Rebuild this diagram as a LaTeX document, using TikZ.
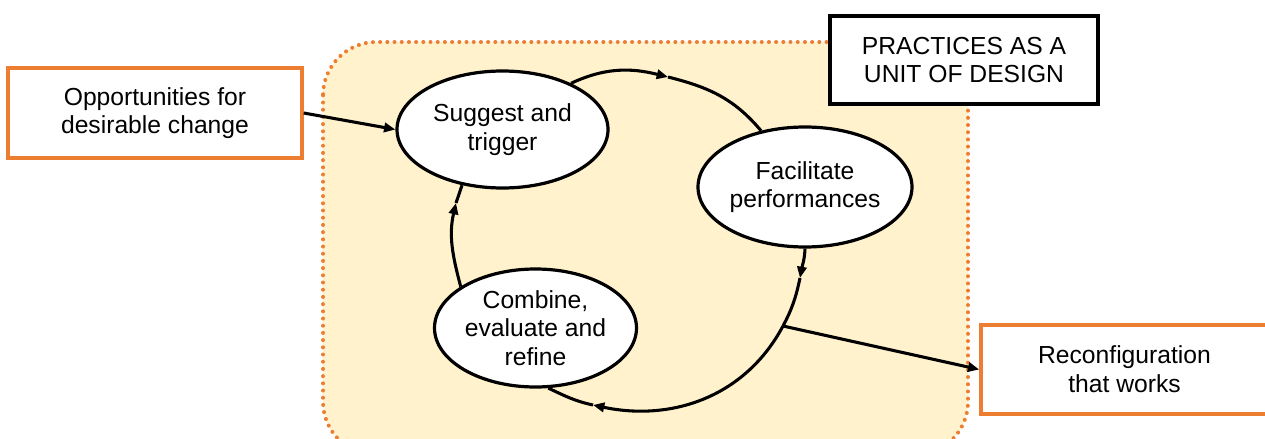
\documentclass[tikz,border=0pt]{standalone}
\usepackage{fontspec}
\setmainfont{Liberation Sans}
\usetikzlibrary{shapes.geometric,arrows.meta}
\definecolor{orng}{HTML}{ED7D31}
\definecolor{cream}{HTML}{FFF2CC}
\begin{document}
\begin{tikzpicture}[x=0.75pt,y=0.75pt,
  txt/.style={font=\fontsize{18.5}{21.5}\selectfont,align=center,text=black},
  obox/.style={txt,draw=orng,line width=2.6pt,fill=white,inner sep=0pt},
  bbox/.style={txt,draw=black,line width=2.8pt,fill=white,inner sep=0pt},
  oval/.style={txt,ellipse,draw=black,line width=2.4pt,fill=white,inner sep=0pt},
  conn/.style={line width=2.3pt,draw=black},
  arr/.style={conn,-{Triangle[length=8.5pt,width=7pt]}}]
\useasboundingbox (0,0) rectangle (1265,-439);
\begin{scope}
\clip (0,0) rectangle (1265,-439);
% background region
\draw[fill=cream,draw=orng,line width=3pt,line cap=round,dash pattern=on 0pt off 5.4pt,rounded corners=40]
  (323,-42) rectangle (968,-455);
% boxes
\node[obox,minimum width=220.5pt,minimum height=67.5pt] (opp) at (155,-113) {Opportunities for\\desirable change};
\node[obox,minimum width=215.25pt,minimum height=66.75pt] (rec) at (1124.5,-369.5) {Reconfiguration\\that works};
\node[bbox,minimum width=201pt,minimum height=66pt] (prac) at (964,-60) {PRACTICES AS A\\UNIT OF DESIGN};
% ellipses
\node[oval,minimum width=158.25pt,minimum height=87.75pt] (sug) at (502.5,-129.5) {Suggest and\\trigger};
\node[oval,minimum width=160.5pt,minimum height=90pt] (fac) at (805,-187) {Facilitate\\performances};
\node[oval,minimum width=151.5pt,minimum height=88.5pt] (com) at (535.5,-328) {Combine,\\evaluate and\\refine};
% cycle points
\coordinate (p1) at (668,-77);
\coordinate (p3) at (800,-278);
\coordinate (br) at (783,-326);
\coordinate (p4) at (593,-405);
\coordinate (p5) at (456,-203);
% connectors
\draw[arr] (opp.east) -- (sug.west);
\draw[arr] (sug.34) to[out=25,in=166] (p1);
\draw[conn] (p1) to[out=-14,in=130] (fac.128);
\draw[arr] (fac.south) to[out=-92,in=80] (p3);
\draw[conn] (p3) to[out=-102,in=62] (br);
\draw[arr] (br) to[out=-118,in=-12] (p4);
\draw[conn] (p4) to[out=168,in=-25] (com.-78);
\draw[arr] (com.151) to[out=105,in=-103] (p5);
\draw[conn] (p5) -- (sug.234);
\draw[arr] (br) -- (rec.west);
\end{scope}
\end{tikzpicture}
\end{document}
